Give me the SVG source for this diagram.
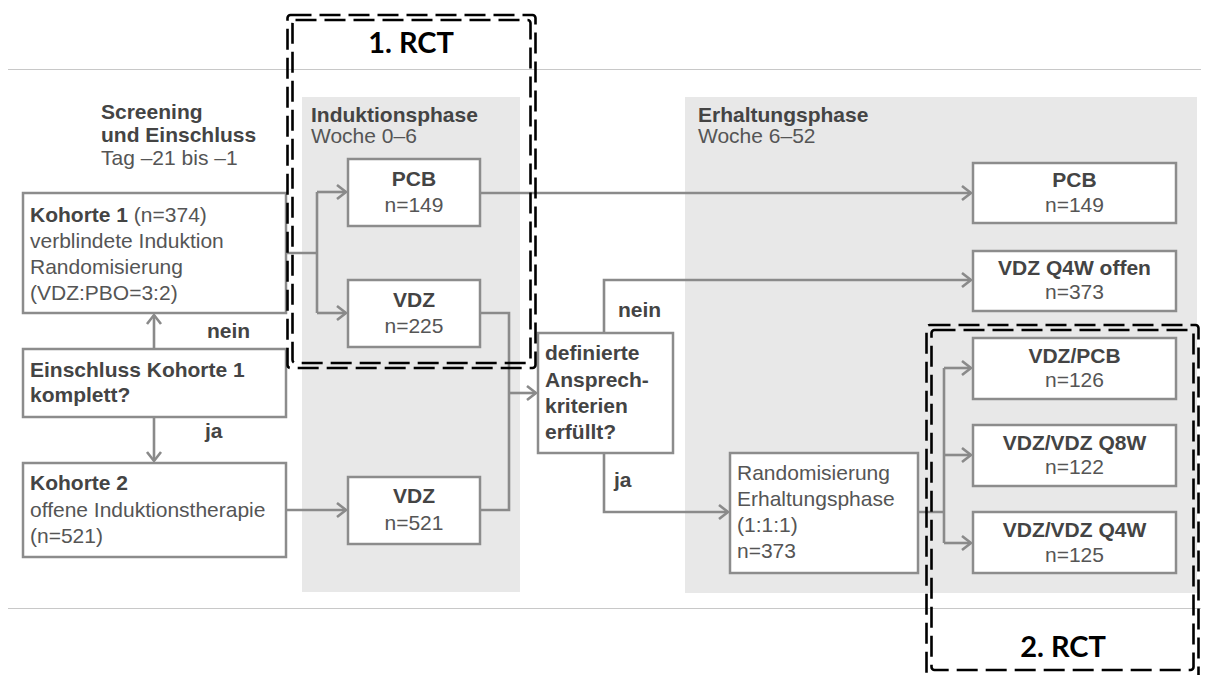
<svg xmlns="http://www.w3.org/2000/svg" width="1209" height="675" viewBox="0 0 1209 675">
<defs>
<marker id="arr" markerUnits="userSpaceOnUse" markerWidth="14" markerHeight="18" refX="11" refY="9" orient="auto">
<path d="M2,2 L11,9 L2,16" fill="none" stroke="#8a8a8a" stroke-width="2.6"/>
</marker>
<style>
.box{fill:#fff;stroke:#8c8c8c;stroke-width:2.5}
.panel{fill:#e8e8e8}
.hl{stroke:#c8c8c8;stroke-width:1.2}
.con{fill:none;stroke:#8a8a8a;stroke-width:2.6}
.t{font-family:"Liberation Sans",Arial,sans-serif;font-size:21px;fill:#555}
.b{font-family:"Liberation Sans",Arial,sans-serif;font-size:21px;font-weight:bold;fill:#444}
.c{text-anchor:middle}
.rct{fill:none;stroke:#000;stroke-width:2.6;stroke-dasharray:21 8}
.rt{font-family:Lato,"Open Sans",sans-serif;font-size:29px;font-weight:bold;fill:#000;text-anchor:middle}
</style>
</defs>
<rect width="1209" height="675" fill="#fff"/>
<line class="hl" x1="8" y1="69.5" x2="1201" y2="69.5"/>
<line class="hl" x1="8" y1="608.5" x2="1201" y2="608.5"/>
<g id="panel-induktion">
<rect class="panel" x="302" y="97" width="218" height="495"/>
<text class="b" x="311" y="122">Induktionsphase</text>
<text class="t" x="311" y="143">Woche 0–6</text>
</g>
<g id="panel-erhaltung">
<rect class="panel" x="685" y="97" width="512" height="496"/>
<text class="b" x="698" y="122">Erhaltungsphase</text>
<text class="t" x="698" y="143">Woche 6–52</text>
</g>
<g id="screening-label">
<text class="b" x="101" y="119">Screening</text>
<text class="b" x="101" y="142">und Einschluss</text>
<text class="t" x="101" y="165">Tag –21 bis –1</text>
</g>
<g id="connectors">
<path class="con" d="M286 253 H317 M317 192 V313"/>
<path class="con" d="M317 192 H346" marker-end="url(#arr)"/>
<path class="con" d="M317 313 H346" marker-end="url(#arr)"/>
<path class="con" d="M154 349 V315" marker-end="url(#arr)"/>
<path class="con" d="M154 417 V461" marker-end="url(#arr)"/>
<path class="con" d="M286 510 H346" marker-end="url(#arr)"/>
<path class="con" d="M480 313 H509 V510 H480"/>
<path class="con" d="M509 393 H536" marker-end="url(#arr)"/>
<path class="con" d="M480 193 H971" marker-end="url(#arr)"/>
<path class="con" d="M604 333 V280 H971" marker-end="url(#arr)"/>
<path class="con" d="M604 453 V512 H728" marker-end="url(#arr)"/>
<path class="con" d="M918 512 H944 M944 368 V543"/>
<path class="con" d="M944 368 H971" marker-end="url(#arr)"/>
<path class="con" d="M944 455 H971" marker-end="url(#arr)"/>
<path class="con" d="M944 543 H971" marker-end="url(#arr)"/>
<text class="b" x="207" y="338">nein</text>
<text class="b" x="205" y="438">ja</text>
<text class="b" x="618" y="317">nein</text>
<text class="b" x="614" y="487">ja</text>
</g>
<g id="kohorte1">
<rect class="box" x="23" y="193" width="263" height="120"/>
<text class="t" x="30" y="222"><tspan class="b">Kohorte 1</tspan> (n=374)</text>
<text class="t" x="30" y="248">verblindete Induktion</text>
<text class="t" x="30" y="274">Randomisierung</text>
<text class="t" x="30" y="300">(VDZ:PBO=3:2)</text>
</g>
<g id="einschluss">
<rect class="box" x="23" y="349" width="263" height="68"/>
<text class="b" x="30" y="377">Einschluss Kohorte 1</text>
<text class="b" x="30" y="402">komplett?</text>
</g>
<g id="kohorte2">
<rect class="box" x="23" y="463" width="263" height="94"/>
<text class="b" x="30" y="490">Kohorte 2</text>
<text class="t" x="30" y="517">offene Induktionstherapie</text>
<text class="t" x="30" y="543">(n=521)</text>
</g>
<g id="pcb1">
<rect class="box" x="348" y="159" width="132" height="67"/>
<text class="b c" x="414" y="186">PCB</text>
<text class="t c" x="414" y="212">n=149</text>
</g>
<g id="vdz1">
<rect class="box" x="348" y="280" width="132" height="67"/>
<text class="b c" x="414" y="307">VDZ</text>
<text class="t c" x="414" y="333">n=225</text>
</g>
<g id="vdz2">
<rect class="box" x="348" y="477" width="132" height="67"/>
<text class="b c" x="414" y="503">VDZ</text>
<text class="t c" x="414" y="530">n=521</text>
</g>
<g id="definierte">
<rect class="box" x="538" y="333" width="135" height="120"/>
<text class="b" x="545" y="360">definierte</text>
<text class="b" x="545" y="387">Ansprech-</text>
<text class="b" x="545" y="413">kriterien</text>
<text class="b" x="545" y="439">erfüllt?</text>
</g>
<g id="randomisierung">
<rect class="box" x="730" y="453" width="188" height="120"/>
<text class="t" x="737" y="480">Randomisierung</text>
<text class="t" x="737" y="506">Erhaltungsphase</text>
<text class="t" x="737" y="532">(1:1:1)</text>
<text class="t" x="737" y="558">n=373</text>
</g>
<g id="pcb2">
<rect class="box" x="973" y="163" width="203" height="60"/>
<text class="b c" x="1074.5" y="187">PCB</text>
<text class="t c" x="1074.5" y="212">n=149</text>
</g>
<g id="vdzq4woffen">
<rect class="box" x="973" y="251" width="203" height="60"/>
<text class="b c" x="1074.5" y="275">VDZ Q4W offen</text>
<text class="t c" x="1074.5" y="299">n=373</text>
</g>
<g id="vdzpcb">
<rect class="box" x="973" y="338" width="203" height="61"/>
<text class="b c" x="1074.5" y="363">VDZ/PCB</text>
<text class="t c" x="1074.5" y="387">n=126</text>
</g>
<g id="vdzq8w">
<rect class="box" x="973" y="425" width="203" height="61"/>
<text class="b c" x="1074.5" y="450">VDZ/VDZ Q8W</text>
<text class="t c" x="1074.5" y="474">n=122</text>
</g>
<g id="vdzq4w">
<rect class="box" x="973" y="512" width="203" height="61"/>
<text class="b c" x="1074.5" y="537">VDZ/VDZ Q4W</text>
<text class="t c" x="1074.5" y="562">n=125</text>
</g>
<g id="rct1">
<rect class="rct" x="287.5" y="15" width="248" height="353" rx="3"/>
<rect class="rct" x="292.5" y="20" width="238" height="343" rx="3"/>
<text class="rt" x="411" y="53">1. RCT</text>
</g>
<g id="rct2">
<rect class="rct" x="926.5" y="325" width="272" height="355" rx="3"/>
<rect class="rct" x="931.5" y="330" width="262" height="340" rx="3"/>
<text class="rt" x="1063" y="657">2. RCT</text>
</g>
</svg>
